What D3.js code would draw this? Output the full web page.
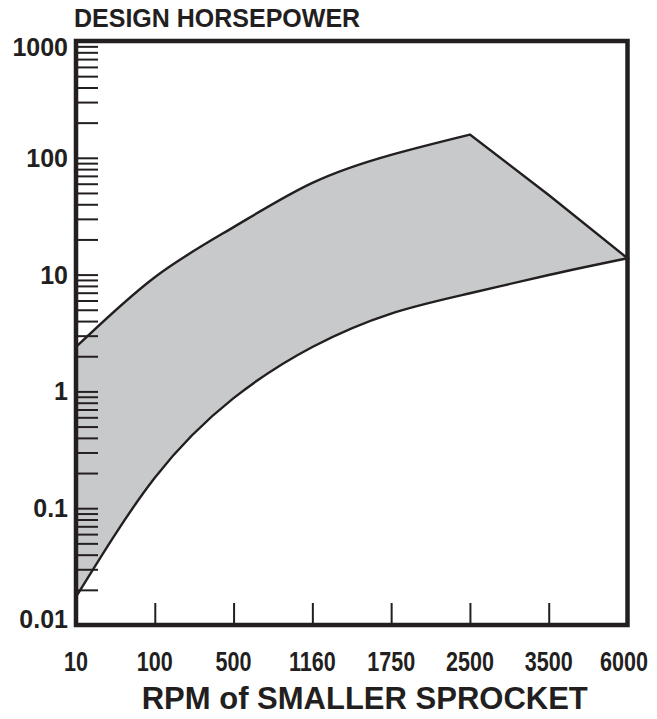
<!DOCTYPE html>
<html>
<head>
<meta charset="utf-8">
<script src="https://cdn.jsdelivr.net/npm/d3@7"></script>
<style>
  body { margin: 0; background: #fff; }
  text { font-family: "Liberation Sans", Arial, Helvetica, sans-serif; font-weight: bold; fill: #231f20; }
</style>
</head>
<body>
<div id="chart"></div>
<script>
// rpm categories along the bottom (evenly spaced, not to scale)
var rpm = ["10", "100", "500", "1160", "1750", "2500", "3500", "6000"];
// design horsepower band, read at each rpm
var maxHp = [2.4, 9.5, 25.5, 61, 106, 158, 48, 13.8];
var minHp = [0.0174, 0.182, 0.875, 2.4, 4.64, 6.92, 9.93, 13.8];
// upper edge is curved up to this rpm, straight after it
var peakRpm = "2500";
var hpLabels = [0.01, 0.1, 1, 10, 100, 1000];

var width = 657,
    height = 719;
var plotLeft = 76, plotRight = 627.5, plotTop = 41, plotBottom = 625;
var ink = "#231f20";

var svg = d3.select("#chart")
            .append("svg")
            .attr("width", width)
            .attr("height", height);

var x = d3.scalePoint()
          .domain(rpm)
          .range([plotLeft, plotRight]);

var y = d3.scaleLog()
          .domain([0.01, 1000])
          .range([plotBottom, plotTop]);

// --- shaded band
var upper = rpm.map(function (r, i) { return [x(r), y(maxHp[i])]; });
var lower = rpm.map(function (r, i) { return [x(r), y(minHp[i])]; });
var k = rpm.indexOf(peakRpm);

var smooth = d3.line().curve(d3.curveNatural);
var straight = d3.line();

var d = smooth(upper.slice(0, k + 1))
      + straight(upper.slice(k)).replace(/^M/, "L")
      + smooth(lower.slice().reverse()).replace(/^M/, "L")
      + "Z";

svg.append("path")
   .attr("d", d)
   .attr("fill", "#c8c9cb")
   .attr("stroke", ink)
   .attr("stroke-width", 2.4)
   .attr("stroke-linejoin", "miter");

// --- y ticks (inside the frame)
var yAxis = svg.append("g")
   .attr("transform", "translate(" + plotLeft + ",0)")
   .call(d3.axisRight(y).tickSize(22).tickFormat(""));
yAxis.select(".domain").remove();
yAxis.selectAll("line")
     .attr("stroke", ink)
     .attr("stroke-width", 2);

hpLabels.forEach(function (v) {
  var ty = Math.max(plotTop + 6, Math.min(plotBottom - 6, y(v)));
  svg.append("text")
     .attr("x", 68)
     .attr("y", ty)
     .attr("dy", "0.36em")
     .attr("text-anchor", "end")
     .style("font-size", "25px")
     .text(v);
});

// --- x ticks (inside the frame)
var xAxis = svg.append("g")
   .attr("transform", "translate(0," + plotBottom + ")")
   .call(d3.axisTop(x).tickSize(22).tickFormat(""));
xAxis.select(".domain").remove();
xAxis.selectAll("line")
     .attr("stroke", ink)
     .attr("stroke-width", 2);

// condensed look: squeeze the bold face horizontally
rpm.forEach(function (r) {
  svg.append("text")
     .attr("transform", "translate(" + Math.min(x(r), 624) + ",671) scale(0.77,1)")
     .attr("text-anchor", "middle")
     .style("font-size", "28px")
     .text(r);
});

// --- frame
svg.append("rect")
   .attr("x", plotLeft)
   .attr("y", plotTop)
   .attr("width", plotRight - plotLeft)
   .attr("height", plotBottom - plotTop)
   .attr("fill", "none")
   .attr("stroke", ink)
   .attr("stroke-width", 4.5);

// --- titles
svg.append("text")
   .attr("x", 74)
   .attr("y", 27)
   .style("font-size", "25px")
   .text("DESIGN HORSEPOWER");

svg.append("text")
   .attr("x", (plotLeft + plotRight) / 2 + 13)
   .attr("y", 709)
   .attr("text-anchor", "middle")
   .style("font-size", "31px")
   .text("RPM of SMALLER SPROCKET");
</script>
</body>
</html>
